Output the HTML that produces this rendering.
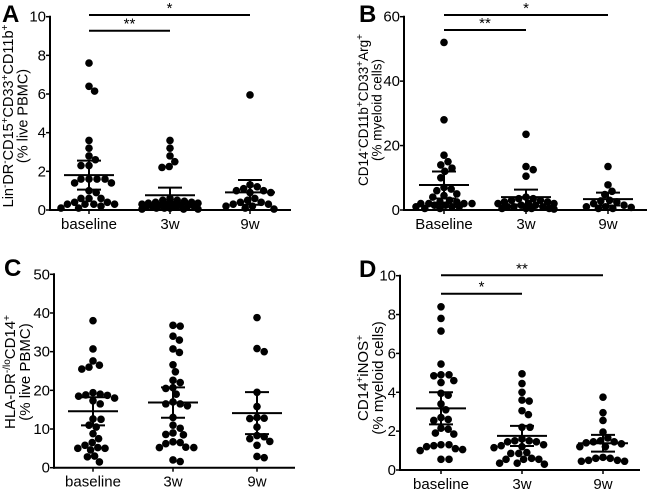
<!DOCTYPE html>
<html><head><meta charset="utf-8"><style>
html,body{margin:0;padding:0;background:#fff;width:650px;height:491px;overflow:hidden}
svg text{font-family:"Liberation Sans",Arial,sans-serif;fill:#000}
</style></head><body>
<svg id="chart" width="650" height="491" viewBox="0 0 650 491" xmlns="http://www.w3.org/2000/svg"></svg>
<script>
const categoriesA = ["baseline","3w","9w"];
const categoriesB = ["Baseline","3w","9w"];
const ticksA = [0,2,4,6,8,10];
const ticksB = [0,20,40,60];
const ticksC = [0,10,20,30,40,50];
const ticksD = [0,2,4,6,8,10];
const a_baseline = [7.6,6.4,6.15,3.6,3.2,2.8,2.6,2.3,2.3,1.6,1.6,1.6,1.6,1.4,1.4,1.0,0.9,0.6,0.6,0.6,0.4,0.4,0.3,0.3,0.3,0.3,0.2,0.1,0.1];
const a_3w = [3.6,3.2,2.8,2.5,2.25,2.2,0.6,0.5,0.5,0.45,0.4,0.4,0.35,0.35,0.3,0.3,0.3,0.25,0.25,0.2,0.2,0.2,0.15,0.15,0.1,0.1,0.1,0.05,0.05,0.05];
const a_9w = [5.95,1.3,1.2,1.1,1.0,1.0,0.9,0.9,0.6,0.5,0.4,0.4,0.3,0.3,0.2,0.2,0.1,0.05];
const b_baseline = [52,28,17,15,14,13,12,10,7,6.5,6,5,4.5,4,3,2.5,2.5,2,2,2,2,1.5,1.5,1,1,1,0.5,0.5];
const b_3w = [23.5,13.5,12.5,10.5,4,3.5,3.5,3,3,2.5,2.5,2,2,2,1.5,1.5,1,1,1,0.5,0.5,0.5,0.5,0.3];
const b_9w = [13.5,7.8,5.8,4.8,3,2.8,2.5,2,1.5,1,1,0.8,0.5,0.5];
const c_baseline = [38,30.7,27.6,26.5,26,25.5,19.4,19,18.8,18.7,18.5,18,17.3,16.5,12.6,12.5,11,10.5,8.8,7.5,6.5,5.8,5.2,5,5,4.6,3,2.8,1.5];
const c_3w = [36.8,36.6,34,33,30.7,29.8,26.6,24.8,22.6,22,20.7,20.5,19,17,16.5,16.5,16,13,11,10.2,9,8.6,8.5,6.7,6.5,6.2,5.3,5.2,5.2,2,1.6];
const c_9w = [38.8,30.8,30,19.5,15.8,13,12.8,12.7,10.5,8.3,8,7.5,6.8,5.8,2.9,2.6];
const d_baseline = [8.4,7.8,7.15,5.45,4.9,4.9,4.85,4.6,4.5,3.95,3.85,3.4,3.1,2.7,2.6,2.55,2.15,2.1,1.9,1.85,1.3,1.3,1.25,1.2,1.1,1.05,1.0,0.55,0.55];
const d_3w = [4.95,4.45,4.0,3.6,3.55,3.05,2.85,2.2,2.2,1.6,1.5,1.5,1.45,1.45,1.3,1.25,1.2,1.15,0.9,0.85,0.85,0.6,0.55,0.55,0.55,0.35,0.35,0.3];
const d_9w = [3.75,2.95,2.55,1.95,1.65,1.5,1.45,1.45,1.4,1.35,1.2,1.2,0.65,0.6,0.6,0.5,0.5,0.45,0.45];

const NS="http://www.w3.org/2000/svg";
const svg=document.getElementById('chart');
function mk(tag,attrs,parent){const e=document.createElementNS(NS,tag);for(const k in attrs)e.setAttribute(k,attrs[k]);(parent||svg).appendChild(e);return e;}
function stats(v){const n=v.length;const m=v.reduce((a,b)=>a+b,0)/n;const sd=Math.sqrt(v.reduce((a,b)=>a+(b-m)*(b-m),0)/(n-1));const ci=2.05*sd/Math.sqrt(n);return {m,lo:Math.max(0,m-ci),hi:m+ci};}

function panel(p){
  const g=mk('g',{});
  
  
  const yS=v=>p.y0-(v-p.min)/(p.max-p.min)*(p.y0-p.y1);
  const L=mk('text',{x:p.lx,y:p.ly,'font-size':24,'font-weight':'bold'},g);L.textContent=p.letter;
  
  const ya=mk('line',{x1:p.ax,y1:p.y1-1,x2:p.ax,y2:p.y0+1,stroke:'#000','stroke-width':2},g);
  
  const xa=mk('line',{x1:p.ax-1,y1:p.y0,x2:p.xend,y2:p.y0,stroke:'#000','stroke-width':2},g);
  
  p.ticks.forEach(t=>{const y=yS(t);
    mk('line',{x1:p.ax-4,y1:y,x2:p.ax,y2:y,stroke:'#000','stroke-width':1.5},g);
    const tx=mk('text',{x:p.ax-4,y:y+5,'font-size':15,'text-anchor':'end'},g);tx.textContent=t;
    });
  const fs=p.tfs||15;
  const tt=mk('text',{transform:`translate(${p.tx},${p.ty}) rotate(-90)`,'font-size':fs,'text-anchor':'middle'},g);
  
  tt.innerHTML=p.title1;
  const tt2=mk('text',{transform:`translate(${p.tx+fs},${p.ty}) rotate(-90)`,'font-size':fs,'text-anchor':'middle'},g);
  tt2.textContent=p.title2;
  
  p.series.forEach((vals,i)=>{
    const cx=p.cx[i];
    const xl=mk('text',{x:cx,y:p.y0+19,'font-size':15,'text-anchor':'middle'},g);xl.textContent=p.cats[i];
    
    mk('line',{x1:cx,y1:p.y0,x2:cx,y2:p.y0+4,stroke:'#000','stroke-width':1.5},g);
    const placed=[];const r=3.8,d=7.6,W=28;
    vals.slice().sort((a,b)=>b-a).forEach(v=>{
      const y=yS(v);let best=0,bestScore=1e9;
      for(let k=0;k<=2*W/0.8+1;k++){const o=(k%2?1:-1)*Math.ceil(k/2)*0.8;
        if(Math.abs(o)>W)break;
        let ov=0;placed.forEach(q=>{const dd=Math.hypot(q.x-o,q.y-y);if(dd<d*0.95)ov=Math.max(ov,d-dd);});
        const score=ov*10+Math.abs(o)*0.01;
        if(ov===0){best=o;bestScore=0;break;}
        if(score<bestScore){bestScore=score;best=o;}}
      placed.push({x:best,y});
      const c=mk('circle',{cx:cx+best,cy:y,r:r,fill:'#000'},g);
      
    });
    const s=stats(vals);
    const eb=mk('g',{stroke:'#000','stroke-width':2},g);
    
    mk('line',{x1:cx-25,y1:yS(s.m),x2:cx+25,y2:yS(s.m)},eb);
    mk('line',{x1:cx,y1:yS(s.lo),x2:cx,y2:yS(s.hi)},eb);
    mk('line',{x1:cx-12,y1:yS(s.lo),x2:cx+12,y2:yS(s.lo)},eb);
    mk('line',{x1:cx-12,y1:yS(s.hi),x2:cx+12,y2:yS(s.hi)},eb);
  });
  p.sig.forEach(sg=>{
    const x1=p.cx[sg.a],x2=p.cx[sg.b];
    const l=mk('line',{x1:x1,y1:sg.y,x2:x2,y2:sg.y,stroke:'#000','stroke-width':2},g);
    
    const t=mk('text',{x:(x1+x2)/2,y:sg.y-2,'font-size':15,'text-anchor':'middle'},g);t.textContent=sg.t;
    
  });
}
const sup=s=>`<tspan dy="-5" font-size="10">${s}</tspan><tspan dy="5">`;
panel({name:'panel-a',letter:'A',lx:2,ly:22,ax:50,y0:210,y1:16.7,min:0,max:10,xend:291,ticks:ticksA,
  tx:13,ty:116,tfs:14.5,title1:'<tspan>Lin</tspan>'+sup('-')+'DR</tspan>'+sup('-')+'CD15</tspan>'+sup('+')+'CD33</tspan>'+sup('+')+'CD11b</tspan>'+'<tspan dy="-5" font-size="10">+</tspan>',
  title2:'(% live PBMC)',cats:categoriesA,cx:[89,170,250],series:[a_baseline,a_3w,a_9w],
  sig:[{a:0,b:2,y:15,t:'*'},{a:0,b:1,y:30.7,t:'**'}]});
panel({name:'panel-b',letter:'B',lx:359,ly:22,ax:404,y0:210,y1:16.7,min:0,max:60,xend:647,ticks:ticksB,
  tx:368,ty:110,tfs:13.5,title1:'<tspan>CD14</tspan>'+sup('-')+'CD11b</tspan>'+sup('+')+'CD33</tspan>'+sup('+')+'Arg</tspan>'+'<tspan dy="-5" font-size="10">+</tspan>',
  title2:'(% myeloid cells)',cats:categoriesB,cx:[444,526,608],series:[b_baseline,b_3w,b_9w],
  sig:[{a:0,b:2,y:15,t:'*'},{a:0,b:1,y:30,t:'**'}]});
panel({name:'panel-c',letter:'C',lx:4,ly:276,ax:54,y0:467.7,y1:274.3,min:0,max:50,xend:295,ticks:ticksC,
  tx:15,ty:372,title1:'<tspan>HLA-DR</tspan>'+sup('-/lo')+'CD14</tspan>'+'<tspan dy="-5" font-size="10">+</tspan>',
  title2:'(% live PBMC)',cats:categoriesA,cx:[93,173,257],series:[c_baseline,c_3w,c_9w],sig:[]});
panel({name:'panel-d',letter:'D',lx:359,ly:277,ax:400,y0:470,y1:275.7,min:0,max:10,xend:640,ticks:ticksD,
  tx:368,ty:378,title1:'<tspan>CD14</tspan>'+sup('+')+'iNOS</tspan>'+'<tspan dy="-5" font-size="10">+</tspan>',
  title2:'(% myeloid cells)',cats:categoriesA,cx:[441,522,603],series:[d_baseline,d_3w,d_9w],
  sig:[{a:0,b:2,y:275.3,t:'**'},{a:0,b:1,y:293.7,t:'*'}]});
</script>
</body></html>
